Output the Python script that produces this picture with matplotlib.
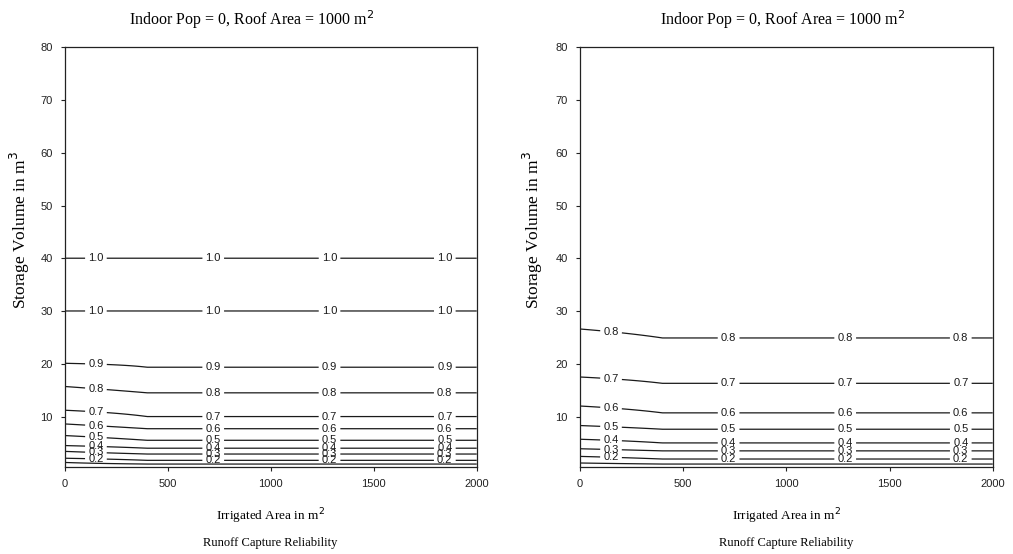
import matplotlib.pyplot as plt
import numpy as np

# Data: contour heights (storage volume, m^3)
# at irrigated area = 0 and where the lines level off (>= ~400 m^2)
irrigated_area = [0, 400, 800, 1200, 1600, 2000]

left_levels = [0.1, 0.2, 0.3, 0.4, 0.5, 0.6, 0.7, 0.8, 0.9, 1.0]
left_h_start = [1.3, 2.1, 3.4, 4.5, 6.4, 8.6, 11.2, 15.7, 20.1, 30.0]
left_h_flat = [1.0, 1.7, 2.9, 4.0, 5.5, 7.7, 10.0, 14.5, 19.35, 30.0]
# second 1.0 contour at 40 m^3 (reliability sits on the 1.0 ridge between 30 and 40)
left_ridge_h = [35.0, 40.0, 80.0]
left_ridge_z = [1.01, 1.0, 0.99]

right_levels = [0.1, 0.2, 0.3, 0.4, 0.5, 0.6, 0.7, 0.8]
right_h_start = [1.2, 2.45, 3.9, 5.7, 8.3, 12.0, 17.5, 26.6]
right_h_flat = [1.0, 1.95, 3.5, 5.0, 7.6, 10.7, 16.3, 24.9]
right_top_h = [36.0, 80.0]
right_top_z = [0.89, 0.89]

label_x = [150, 720, 1285, 1845]
xticks = [0, 500, 1000, 1500, 2000]
yticks = [10, 20, 30, 40, 50, 60, 70, 80]

title = 'Indoor Pop = 0, Roof Area = 1000 m$^2$'
serif = 'Liberation Serif'
sans = 'Liberation Sans'
line_col = '#1a1a1a'


def build_field(levels, h_start, h_flat, top_h, top_z, ys):
    z = np.zeros((len(ys), len(irrigated_area)))
    for j, xa in enumerate(irrigated_area):
        h = h_start if xa == 0 else h_flat
        hp = [0.0] + list(h) + list(top_h)
        zp = [0.0] + list(levels) + list(top_z)
        z[:, j] = np.interp(ys, hp, zp)
    return z


def label_points(h_start, h_flat):
    # labels for every level except the lowest (0.1) one
    pts = []
    for h0, h1 in zip(h_start[1:], h_flat[1:]):
        for lx in label_x:
            pts.append((lx, np.interp(lx, [0, 400], [h0, h1])))
    return pts


fig = plt.figure(figsize=(10.13, 5.54), dpi=100)
ax1 = fig.add_axes([0.0642, 0.1576, 0.4064, 0.757])
ax2 = fig.add_axes([0.5726, 0.1576, 0.4074, 0.757])

ys = np.linspace(0.5, 80, 1600)
X, Y = np.meshgrid(irrigated_area, ys)

panels = [
    (ax1, left_levels, left_h_start, left_h_flat, left_ridge_h, left_ridge_z),
    (ax2, right_levels, right_h_start, right_h_flat, right_top_h, right_top_z),
]

for ax, levels, h0, h1, th, tz in panels:
    Z = build_field(levels, h0, h1, th, tz, ys)
    # lowest (0.1) contour carries no label
    ax.contour(X, Y, Z, levels=levels[:1], colors=line_col, linewidths=0.9)
    cs = ax.contour(X, Y, Z, levels=levels[1:], colors=line_col, linewidths=0.9)
    pts = label_points(h0, h1)
    if ax is ax1:
        pts += [(lx, 40.0) for lx in label_x]
    texts = ax.clabel(cs, manual=pts, inline=True, inline_spacing=2,
                      fmt='%.1f', fontsize=8)
    for t in texts:
        t.set_rotation(0)
        t.set_family(sans)
        t.set_color(line_col)

    ax.set_xlim(0, 2000)
    ax.set_ylim(0.5, 80)
    ax.set_xticks(xticks)
    ax.set_yticks(yticks)
    ax.tick_params(direction='out', length=3, width=0.8, labelsize=8,
                   colors='#222222', pad=6)
    for lab in ax.get_xticklabels() + ax.get_yticklabels():
        lab.set_family(sans)
    for sp in ax.spines.values():
        sp.set_color('#222222')
        sp.set_linewidth(0.9)

# titles and axis labels (serif, placed to match the reference)
fig.text(0.248, 0.964, title, ha='center', va='center', fontsize=11.5, family=serif)
fig.text(0.773, 0.964, title, ha='center', va='center', fontsize=11.5, family=serif)

for cx in [0.267, 0.776]:
    fig.text(cx, 0.069, 'Irrigated Area in m$^2$', ha='center', va='center',
             fontsize=9.5, family=serif)
    fig.text(cx, 0.020, 'Runoff Capture Reliability', ha='center', va='center',
             fontsize=9, family=serif)

for lx in [0.020, 0.526]:
    fig.text(lx, 0.585, 'Storage Volume in m$^3$', ha='center', va='center',
             rotation=90, fontsize=12.5, family=serif)

fig.savefig('out.png', dpi=100)
